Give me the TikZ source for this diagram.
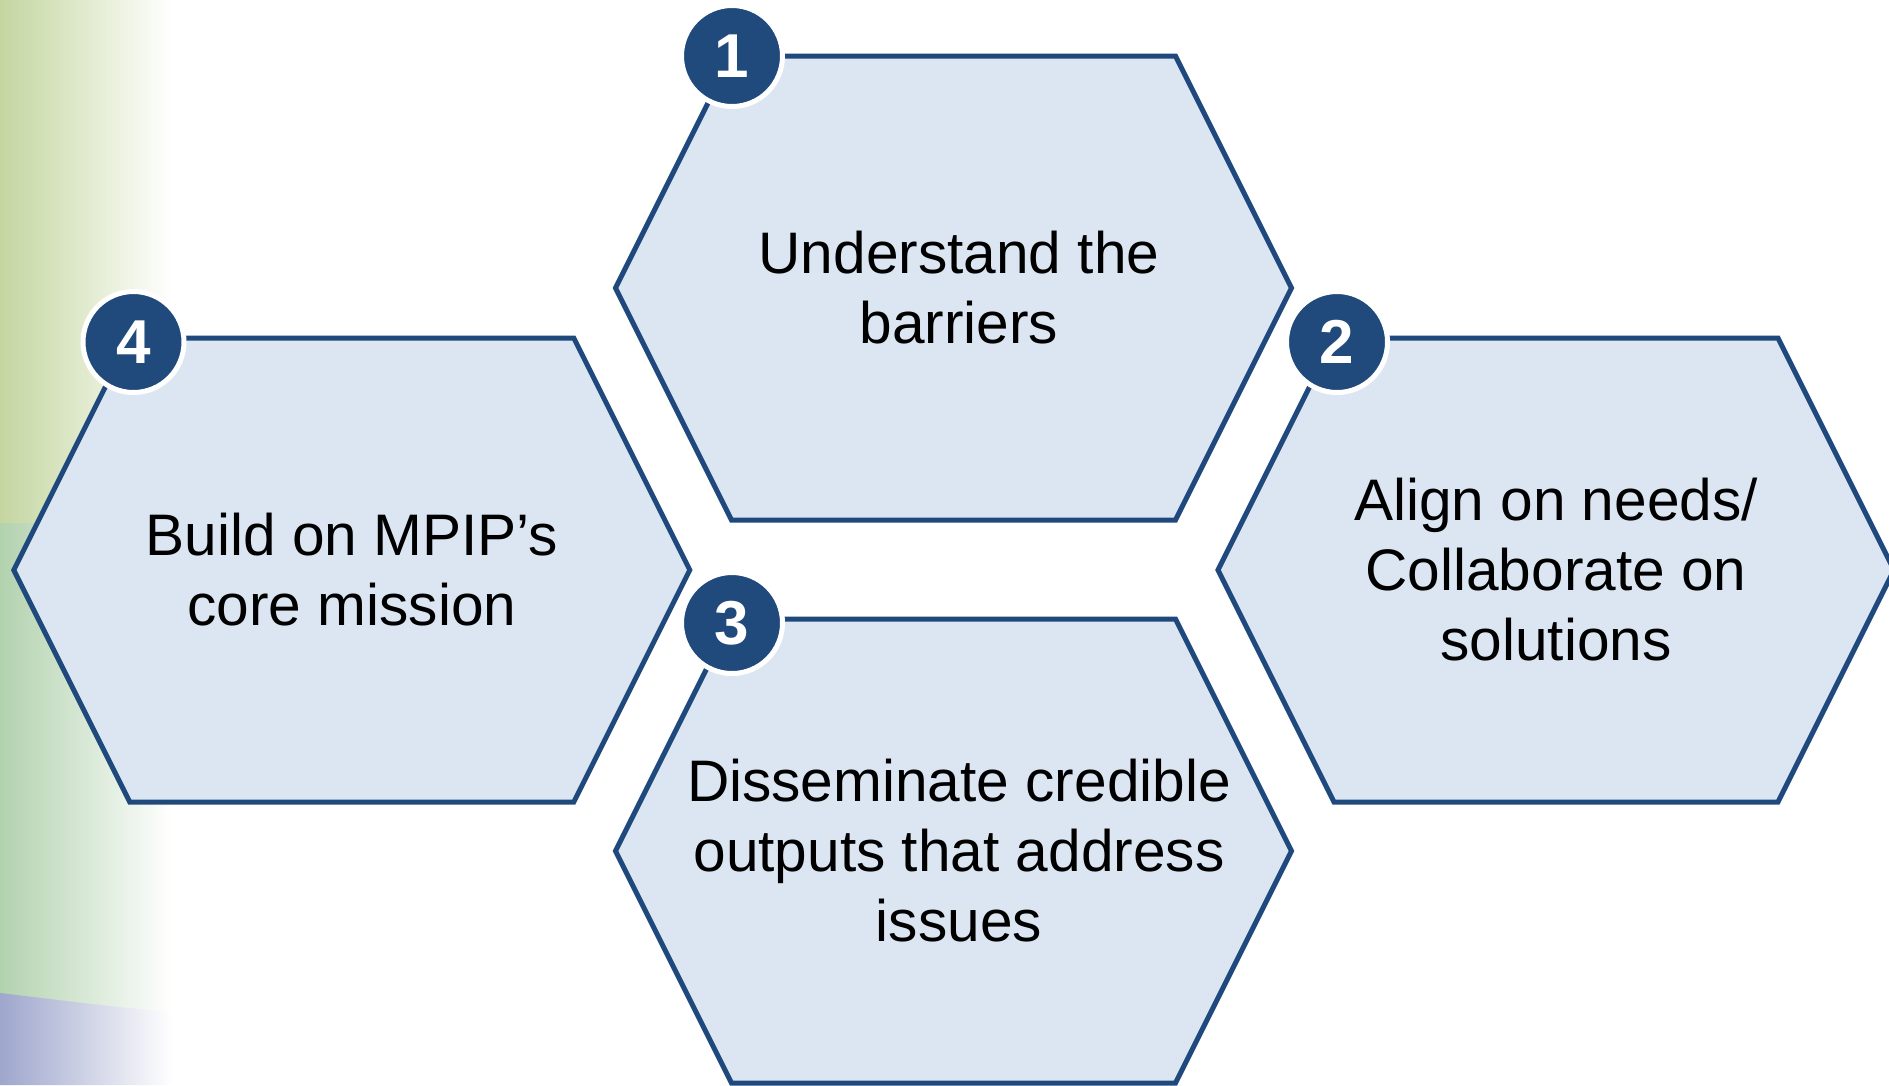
\documentclass[tikz,border=0pt]{standalone}
\usepackage{fontspec}
\setmainfont{Liberation Sans}
\definecolor{hexfill}{RGB}{220,230,242}
\definecolor{hexline}{RGB}{31,73,125}
\definecolor{numfill}{RGB}{33,74,124}
\definecolor{bgolive}{RGB}{196,214,160}
\definecolor{bggreen}{RGB}{178,210,174}
\definecolor{bgblue}{RGB}{158,166,204}
\tikzset{
  hexshape/.style={fill=hexfill, draw=hexline, line width=5pt, line join=miter},
  numcircle/.style={circle, fill=numfill, draw=white, line width=5pt, minimum size=101pt, inner sep=0pt, text=white, font=\fontsize{62}{62}\selectfont\bfseries},
  hextext/.style={align=center, text=black, font=\fontsize{58.6}{70}\selectfont}
}
\newcommand\hexpath[2]{%
  \draw[hexshape] (#1-338,#2) -- (#1-222,#2-232) -- (#1+222,#2-232) -- (#1+338,#2) -- (#1+222,#2+232) -- (#1-222,#2+232) -- cycle;}
\begin{document}
\begin{tikzpicture}[x=1pt,y=-1pt]
  \useasboundingbox (0,0) rectangle (1889,1085);
  \clip (0,0) rectangle (1889,1085);
  \fill[white] (0,0) rectangle (1889,1085);
  % background strip
  \shade[left color=bgolive, right color=white] (0,0) rectangle (172,523);
  \shade[left color=bggreen, right color=white] (0,523) rectangle (172,1010);
  \shade[left color=bgblue, right color=white] (0,993) .. controls (60,1000) and (120,1008) .. (172,1012) -- (172,1085) -- (0,1085) -- cycle;
  % hexagons
  \hexpath{953.5}{288}
  \hexpath{1556}{570}
  \hexpath{351.8}{570}
  \hexpath{953.5}{851}
  % texts
  \node[hextext] (t1) at (959,288) {Understand the\\barriers};
  \node[hextext] (t2) at (1556,570) {Align on needs/\\Collaborate on\\solutions};
  \node[hextext] (t4) at (352,570) {Build on MPIP’s\\core mission};
  \node[hextext] (t3) at (959,851) {Disseminate credible\\outputs that address\\issues};
  % number circles
  \node[numcircle] (n1) at (732,56) {1};
  \node[numcircle] (n2) at (1337,342) {2};
  \node[numcircle] (n4) at (133.5,342) {4};
  \node[numcircle] (n3) at (732,623) {3};
\end{tikzpicture}
\end{document}
